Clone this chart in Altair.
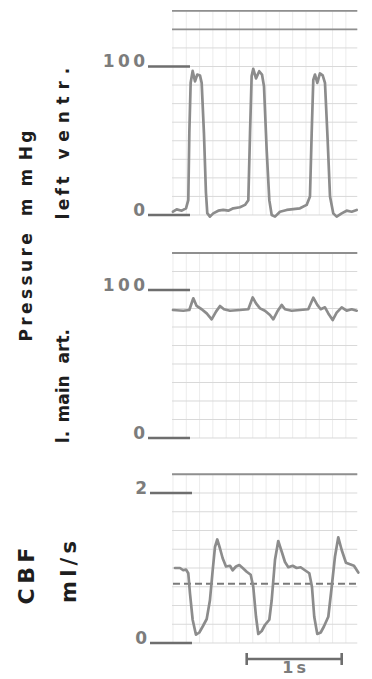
import altair as alt
import pandas as pd

# ---- recorded traces (time in ms from start of trace) ----
lv_time_ms = [0, 39, 92, 137, 161, 172, 186, 207, 232, 256,
              284, 302, 326, 347, 361, 389, 424, 477, 529, 582,
              635, 705, 758, 793, 811, 828, 845, 874, 908, 937,
              958, 986, 1014, 1039, 1074, 1126, 1197, 1266, 1337, 1407,
              1442, 1460, 1477, 1495, 1519, 1547, 1576, 1600, 1628, 1653,
              1687, 1723, 1776, 1828, 1881, 1934]
lv_mmhg = [2.2, 3.8, 2.9, 4.5, 10, 55, 89, 97, 90, 94.6,
           94, 89, 55, 15, 1.3, -1.1, 1.1, 2.9, 3.4, 2.9,
           4.5, 5.2, 6.8, 10, 55, 93.5, 98.4, 92, 96.8, 94.6,
           86.7, 44, 10, 0, -1.1, 2.2, 3.4, 3.9, 4.5, 6.8,
           12.4, 55, 91, 94.6, 89, 95.3, 94, 89, 50.7, 12.4,
           1.1, -1.1, 1.1, 2.9, 2.2, 3.4]

art_time_ms = [0, 108, 172, 214, 249, 302, 355, 407, 453, 495,
               537, 600, 705, 793, 839, 874, 916, 968, 1021, 1056,
               1098, 1144, 1179, 1249, 1337, 1424, 1477, 1519, 1555, 1600,
               1635, 1681, 1723, 1776, 1828, 1881, 1934]
art_mmhg = [86.5, 86, 86.5, 94.4, 89.2, 87, 84.2, 80.2, 85.4, 89.2,
            87, 86, 86.5, 87, 95, 91, 87.6, 86, 83.1, 80.2,
            85.4, 89.9, 87, 86, 86.5, 87, 94.8, 89.9, 87, 88.3,
            84.2, 79.7, 84.7, 88.3, 86, 87, 86]

cbf_time_ms = [21, 74, 108, 137, 161, 179, 207, 242, 277, 313,
               355, 389, 418, 442, 466, 495, 523, 558, 600, 628,
               663, 698, 734, 776, 818, 845, 874, 898, 934, 968,
               1014, 1039, 1074, 1108, 1144, 1179, 1214, 1260, 1302, 1344,
               1389, 1435, 1463, 1487, 1519, 1555, 1589, 1635, 1671, 1705,
               1740, 1776, 1821, 1863, 1905, 1951]
cbf_mls = [1.0, 1.0, 0.97, 0.98, 0.93, 0.66, 0.31, 0.11, 0.14, 0.22,
           0.32, 0.57, 0.97, 1.28, 1.38, 1.26, 1.13, 1.02, 1.03, 0.97,
           1.02, 1.04, 1.0, 0.95, 0.91, 0.75, 0.35, 0.12, 0.16, 0.24,
           0.31, 0.57, 1.11, 1.36, 1.22, 1.08, 1.01, 1.03, 1.0, 1.01,
           0.97, 0.93, 0.75, 0.35, 0.12, 0.14, 0.22, 0.35, 0.75, 1.15,
           1.41, 1.24, 1.07, 1.05, 1.03, 0.94]
cbf_mean = 0.79

# chart-paper grid levels per channel
lv_grid = [i * 12.5 for i in range(12)]
art_grid = [i * 12.5 for i in range(11)]
cbf_grid = [i * 0.25 for i in range(10)]
grid_times = list(range(0, 1941, 140))

# calibration marks and labels
lv_ticks = [0, 100]
art_ticks = [0, 100]
cbf_ticks = [0, 2]
scale_bar_ms = [776, 1776]

# ---- layout / style ----
WIDTH = 372
T_DOMAIN = [-1821, 2095]
TRACE = "#8c8c8c"
CAL = "#6e6e6e"
CAL_TEXT = "#7c7c7c"
INK = "#1e1e1e"
GRID = "#d9d9d9"
GRID_DARK = "#8f8f8f"
VGRID = "#ececec"
FONT = "DejaVu Sans"
TS = "\u2009"   # thin space
EN = "\u2002"   # en space
EM = "\u2003"   # em space


def spaced(word, gap=TS):
    return gap.join(word)


def xs():
    return alt.Scale(domain=T_DOMAIN, nice=False, zero=False)


def panel(height, y_dom, trace_t, trace_v, levels, dark_levels, ticks,
          tick_t, labels, extra=()):
    ys = alt.Scale(domain=y_dom, nice=False, zero=False)
    top = max(levels)

    hgrid = pd.DataFrame({"y": levels, "t0": -10, "t1": 1940})
    hdark = pd.DataFrame({"y": dark_levels, "t0": -10, "t1": 1940})
    vgrid = pd.DataFrame({"t": grid_times, "y0": 0, "y1": top})
    trace = pd.DataFrame({"t": trace_t, "v": trace_v})
    cal = pd.DataFrame({"y": ticks, "t0": tick_t[0], "t1": tick_t[1],
                        "label": [spaced(str(k)) for k in ticks]})
    lab = pd.DataFrame(labels)

    layers = [
        alt.Chart(vgrid).mark_rule(color=VGRID, strokeWidth=1).encode(
            x=alt.X("t:Q", scale=xs(), axis=None),
            y=alt.Y("y0:Q", scale=ys, axis=None), y2="y1:Q"),
        alt.Chart(hgrid).mark_rule(color=GRID, strokeWidth=1).encode(
            x=alt.X("t0:Q", scale=xs(), axis=None), x2="t1:Q",
            y=alt.Y("y:Q", scale=ys, axis=None)),
        alt.Chart(hdark).mark_rule(color=GRID_DARK, strokeWidth=1.8).encode(
            x=alt.X("t0:Q", scale=xs(), axis=None), x2="t1:Q",
            y=alt.Y("y:Q", scale=ys, axis=None)),
        alt.Chart(cal).mark_rule(color=CAL, strokeWidth=2.4).encode(
            x=alt.X("t0:Q", scale=xs(), axis=None), x2="t1:Q",
            y=alt.Y("y:Q", scale=ys, axis=None)),
        alt.Chart(cal).mark_text(font=FONT, fontWeight="bold", fontSize=17,
                                 color=CAL_TEXT, align="right",
                                 baseline="alphabetic", dx=-3, dy=1).encode(
            x=alt.X("t0:Q", scale=xs(), axis=None),
            y=alt.Y("y:Q", scale=ys, axis=None), text="label:N"),
    ]
    layers += list(extra)
    layers.append(
        alt.Chart(trace).mark_line(color=TRACE, strokeWidth=2.7,
                                   strokeJoin="round", strokeCap="round").encode(
            x=alt.X("t:Q", scale=xs(), axis=None),
            y=alt.Y("v:Q", scale=ys, axis=None)))
    layers.append(
        alt.Chart(lab).mark_text(font=FONT, fontWeight="bold", color=INK,
                                 angle=270, align="center",
                                 baseline="middle").encode(
            x=alt.X("t:Q", scale=xs(), axis=None),
            y=alt.Y("y:Q", scale=ys, axis=None),
            text="text:N",
            size=alt.Size("fs:Q", scale=None, legend=None)))
    return alt.layer(*layers).properties(width=WIDTH, height=height)


# ---- left ventricular pressure ----
p1 = panel(
    250, [-23.57, 144.78], lv_time_ms, lv_mmhg, lv_grid, [125, 137.5],
    lv_ticks, [-263, 179],
    {"t": [-1540, -1150], "y": [-14.2, 48.0],
     "text": [spaced("Pressure") + EM + "m" + EN + TS + "m" + EN + "H" + TS + "g",
              spaced("left") + EM + spaced("ventr.", TS + TS)],
     "fs": [17, 17]})

# ---- left main coronary artery pressure ----
p2 = panel(
    205, [-11.49, 127.03], art_time_ms, art_mmhg, art_grid, [125],
    art_ticks, [-263, 179],
    {"t": [-1150], "y": [35.1],
     "text": ["l." + EN + "main" + EN + TS + "art."],
     "fs": [17]})

# ---- coronary blood flow ----
ys3 = alt.Scale(domain=[-0.48, 2.5067], nice=False, zero=False)
mean_df = pd.DataFrame({"y": [cbf_mean], "t0": [0], "t1": [1937]})
bar_df = pd.DataFrame({"t0": [scale_bar_ms[0]], "t1": [scale_bar_ms[1]], "y": [-0.213]})
cap_df = pd.DataFrame({"t": scale_bar_ms, "y0": -0.133, "y1": -0.293})
bar_lab = pd.DataFrame({"t": [sum(scale_bar_ms) / 2], "y": [-0.40],
                        "text": ["1" + TS + "s"]})
cbf_extra = [
    alt.Chart(mean_df).mark_rule(color="#7a7a7a", strokeWidth=2,
                                 strokeDash=[7, 4]).encode(
        x=alt.X("t0:Q", scale=xs(), axis=None), x2="t1:Q",
        y=alt.Y("y:Q", scale=ys3, axis=None)),
    alt.Chart(bar_df).mark_rule(color=CAL, strokeWidth=2.6).encode(
        x=alt.X("t0:Q", scale=xs(), axis=None), x2="t1:Q",
        y=alt.Y("y:Q", scale=ys3, axis=None)),
    alt.Chart(cap_df).mark_rule(color=CAL, strokeWidth=2.6).encode(
        x=alt.X("t:Q", scale=xs(), axis=None),
        y=alt.Y("y0:Q", scale=ys3, axis=None), y2="y1:Q"),
    alt.Chart(bar_lab).mark_text(font=FONT, fontWeight="bold", fontSize=16,
                                 color=CAL_TEXT, align="center",
                                 baseline="alphabetic").encode(
        x=alt.X("t:Q", scale=xs(), axis=None),
        y=alt.Y("y:Q", scale=ys3, axis=None), text="text:N"),
]
p3 = panel(
    224, [-0.48, 2.5067], cbf_time_ms, cbf_mls, cbf_grid, [2.25],
    cbf_ticks, [-242, 200],
    {"t": [-1532, -1084], "y": [0.893, 0.947],
     "text": [spaced("CBF"), spaced("ml/s")],
     "fs": [22, 21]},
    extra=cbf_extra)

chart = (
    alt.vconcat(p1, p2, p3, spacing=0, bounds="flush")
    .resolve_scale(x="independent", y="independent")
    .properties(padding=0, background="white")
    .configure_view(stroke=None)
)

chart.save("out.html", embed_options={"renderer": "svg", "actions": False})
